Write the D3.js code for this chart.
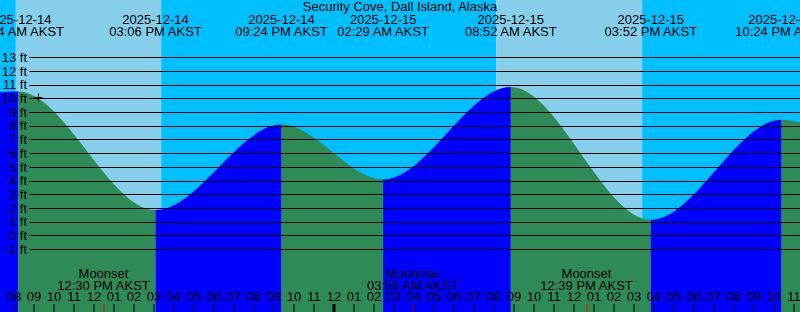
<!DOCTYPE html>
<html>
<head>
<meta charset="UTF-8">
<title>Security Cove tide graph</title>
<style>
  body { margin: 0; background: #fff; }
  svg { display: block; }
  text { font-family: "Liberation Sans", Arial, sans-serif; font-size: 13px; fill: #000; }
</style>
</head>
<body>
<svg id="chart" width="800" height="312"></svg>
<script src="https://cdn.jsdelivr.net/npm/d3@7"></script>
<script>
// Data
var title = "Security Cove, Dall Island, Alaska";
var timeDomain = ["2025-12-14 07:19:30", "2025-12-15 23:19:30"];
var edgeLevels = [10.45, 8.25];

// high / low tides (ft)
var tideTimes = ["2025-12-14 08:14", "2025-12-14 15:06", "2025-12-14 21:24",
                 "2025-12-15 02:29", "2025-12-15 08:52", "2025-12-15 15:52", "2025-12-15 22:24"];
var tideLevels = [10.5, 1.84, 8.09, 4.08, 10.83, 1.13, 8.44];

// sunrise, sunset, sunrise, sunset
var sunTimes = ["2025-12-14 08:07", "2025-12-14 15:23", "2025-12-15 08:08", "2025-12-15 15:26"];

var moonTimes = ["2025-12-14 12:30", "2025-12-15 03:58", "2025-12-15 12:39"];
var moonNames = ["Moonset", "Moonrise", "Moonset"];

var ftTicks = [-1, 0, 1, 2, 3, 4, 5, 6, 7, 8, 9, 10, 11, 12, 13];

// current time mark
var markTime = "2025-12-14 09:13";
var markLevel = 10.0;

var W = 800, H = 312;
var parse = d3.timeParse("%Y-%m-%d %H:%M");
var parseS = d3.timeParse("%Y-%m-%d %H:%M:%S");
var fmtDate = d3.timeFormat("%Y-%m-%d");
var fmtTime = d3.timeFormat("%I:%M %p AKST");

var t0 = parseS(timeDomain[0]), t1 = parseS(timeDomain[1]);
var x = d3.scaleTime().domain([t0, t1]).range([0, W]);
var y = d3.scaleLinear().domain([-1, 13]).range([249, 57.3]);

var svg = d3.select("#chart");

// day / night bands
var bounds = [t0].concat(sunTimes.map(parse)).concat([t1]);
var bands = d3.pairs(bounds).map(function(p, i) {
  return { a: p[0], b: p[1], day: i % 2 === 1 };
});
svg.append("g").selectAll("rect").data(bands).join("rect")
  .attr("x", function(d) { return x(d.a); })
  .attr("width", function(d) { return x(d.b) - x(d.a); })
  .attr("y", 0).attr("height", H)
  .attr("fill", function(d) { return d.day ? "#87CEEB" : "#00BFFF"; });

// tide curve
var pts = [{ t: t0, v: edgeLevels[0] }]
  .concat(tideTimes.map(function(s, i) { return { t: parse(s), v: tideLevels[i] }; }))
  .concat([{ t: t1, v: edgeLevels[1] }]);

var area = d3.area()
  .x(function(d) { return x(d.t); })
  .y0(H)
  .y1(function(d) { return y(d.v); })
  .curve(d3.curveMonotoneX);

var defs = svg.append("defs");
var segs = d3.pairs(pts);
segs.forEach(function(p, i) {
  defs.append("clipPath").attr("id", "seg" + i)
    .append("rect")
    .attr("x", x(p[0].t)).attr("width", x(p[1].t) - x(p[0].t))
    .attr("y", 0).attr("height", H);
  svg.append("path")
    .datum(pts)
    .attr("d", area)
    .attr("clip-path", "url(#seg" + i + ")")
    .attr("fill", p[1].v > p[0].v ? "#0000FF" : "#2E8B57");
});

// level lines and labels
var grid = svg.append("g");
grid.selectAll("line").data(ftTicks).join("line")
  .attr("x1", 29).attr("x2", W)
  .attr("y1", function(d) { return Math.round(y(d)) + 0.5; })
  .attr("y2", function(d) { return Math.round(y(d)) + 0.5; })
  .attr("stroke", "#000").attr("stroke-width", 1);
grid.selectAll("text").data(ftTicks).join("text")
  .attr("x", 27).attr("y", function(d) { return y(d); })
  .attr("dy", "0.36em")
  .attr("text-anchor", "end")
  .text(function(d) { return d + " ft"; });

// title
svg.append("text").attr("x", W / 2).attr("y", 11)
  .attr("text-anchor", "middle").text(title);

// tide event labels
var ev = svg.append("g").selectAll("g").data(tideTimes.map(parse)).join("g")
  .attr("transform", function(d) { return "translate(" + x(d) + ",0)"; });
ev.append("text").attr("y", 23.5).attr("text-anchor", "middle").text(fmtDate);
ev.append("text").attr("y", 36).attr("text-anchor", "middle").text(fmtTime);

// moon events
var moon = svg.append("g").selectAll("g").data(moonTimes.map(parse)).join("g")
  .attr("transform", function(d) { return "translate(" + x(d) + ",0)"; });
moon.append("text").attr("y", 277.7).attr("text-anchor", "middle")
  .text(function(d, i) { return moonNames[i]; });
moon.append("text").attr("y", 289.5).attr("text-anchor", "middle").text(fmtTime);
moon.append("line")
  .attr("x1", 0.5).attr("x2", 0.5).attr("y1", 304).attr("y2", H)
  .attr("stroke", "#FF0000");

// hour axis
var axis = svg.append("g")
  .attr("transform", "translate(0," + H + ")")
  .call(d3.axisTop(x)
    .ticks(d3.timeHour.every(1))
    .tickFormat(d3.timeFormat("%I"))
    .tickSize(8)
    .tickPadding(3));
axis.select(".domain").remove();
axis.attr("font-family", null).attr("font-size", null);
axis.selectAll(".tick line").attr("stroke", "#000")
  .attr("stroke-width", function(d) { return d.getHours() === 0 ? 3 : 1; });
axis.selectAll(".tick text").attr("fill", "#000");

// current time mark
var mx = Math.round(x(parse(markTime))) + 0.5, my = Math.round(y(markLevel)) - 0.5;
svg.append("path")
  .attr("d", "M" + (mx - 4) + "," + my + "H" + (mx + 4) + "M" + mx + "," + (my - 4) + "V" + (my + 4))
  .attr("stroke", "#000").attr("fill", "none");
</script>
</body>
</html>
